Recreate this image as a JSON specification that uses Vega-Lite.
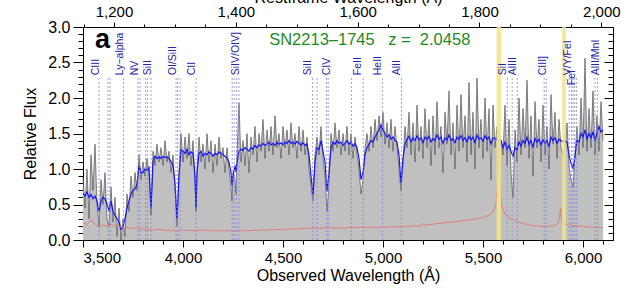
{
  "$schema": "https://vega.github.io/schema/vega-lite/v6.json",
  "width": 530,
  "height": 213,
  "autosize": {"type": "none"},
  "padding": {"left": 83, "top": 27, "right": 15, "bottom": 55},
  "background": "white",
  "config": {
    "view": {"stroke": "#000", "strokeWidth": 1},
    "font": "Liberation Sans",
    "axis": {"grid": false, "domain": false, "tickColor": "#000", "labelColor": "#000", "titleColor": "#000", "labelFont": "Liberation Sans", "titleFont": "Liberation Sans", "titleFontWeight": "normal", "zindex": 1}
  },
  "datasets": {
    "spec": [
      {"w":3500,"f":0.9,"s":0.66},{"w":3510,"f":0.45,"s":0.62},{"w":3520,"f":1.0,"s":0.68},{"w":3530,"f":0.3,"s":0.6},{"w":3540,"f":1.2,"s":0.64},{"w":3550,"f":0.7,"s":0.58},{"w":3560,"f":1.35,"s":0.62},{"w":3570,"f":0.5,"s":0.55},{"w":3580,"f":0.2,"s":0.4},{"w":3590,"f":0.85,"s":0.55},
      {"w":3600,"f":0.5,"s":0.6},{"w":3610,"f":0.95,"s":0.58},{"w":3620,"f":0.3,"s":0.5},{"w":3630,"f":0.2,"s":0.42},{"w":3640,"f":0.75,"s":0.55},{"w":3650,"f":0.25,"s":0.4},{"w":3660,"f":0.6,"s":0.35},{"w":3670,"f":0.05,"s":0.3},{"w":3680,"f":0.45,"s":0.25},{"w":3690,"f":0.0,"s":0.15},
      {"w":3700,"f":0.3,"s":0.18},{"w":3710,"f":0.05,"s":0.3},{"w":3720,"f":0.65,"s":0.45},{"w":3730,"f":0.4,"s":0.55},{"w":3740,"f":0.9,"s":0.65},{"w":3750,"f":0.6,"s":0.7},{"w":3760,"f":0.95,"s":0.72},{"w":3770,"f":0.7,"s":0.78},{"w":3780,"f":1.2,"s":1.05},{"w":3790,"f":0.85,"s":0.95},
      {"w":3800,"f":1.1,"s":0.95},{"w":3810,"f":0.9,"s":1.0},{"w":3820,"f":1.15,"s":0.98},{"w":3830,"f":0.95,"s":1.02},{"w":3840,"f":0.35,"s":0.45},{"w":3850,"f":1.25,"s":1.1},{"w":3860,"f":1.05,"s":1.18},{"w":3870,"f":1.35,"s":1.15},{"w":3880,"f":1.1,"s":1.17},{"w":3890,"f":1.3,"s":1.15},
      {"w":3900,"f":1.05,"s":1.18},{"w":3910,"f":1.4,"s":1.16},{"w":3920,"f":1.1,"s":1.17},{"w":3930,"f":1.25,"s":1.15},{"w":3940,"f":0.95,"s":1.1},{"w":3950,"f":1.2,"s":1.05},{"w":3960,"f":0.7,"s":0.8},{"w":3970,"f":0.2,"s":0.3},{"w":3980,"f":0.95,"s":0.9},{"w":3990,"f":1.5,"s":1.27},
      {"w":4000,"f":1.1,"s":1.25},{"w":4010,"f":1.45,"s":1.22},{"w":4020,"f":1.15,"s":1.28},{"w":4030,"f":1.5,"s":1.2},{"w":4040,"f":1.05,"s":1.24},{"w":4050,"f":1.4,"s":1.22},{"w":4060,"f":0.85,"s":0.9},{"w":4065,"f":0.4,"s":0.45},{"w":4070,"f":1.0,"s":0.95},{"w":4080,"f":1.45,"s":1.22},{"w":4090,"f":1.1,"s":1.25},
      {"w":4100,"f":1.35,"s":1.18},{"w":4110,"f":1.0,"s":1.22},{"w":4120,"f":1.5,"s":1.2},{"w":4130,"f":1.1,"s":1.24},{"w":4140,"f":1.4,"s":1.22},{"w":4150,"f":0.95,"s":1.18},{"w":4160,"f":1.35,"s":1.22},{"w":4170,"f":1.05,"s":1.2},{"w":4180,"f":1.45,"s":1.24},{"w":4190,"f":1.15,"s":1.22},
      {"w":4200,"f":1.3,"s":1.2},{"w":4210,"f":0.95,"s":1.18},{"w":4220,"f":1.3,"s":1.15},{"w":4230,"f":1.0,"s":1.1},{"w":4240,"f":0.75,"s":0.95},{"w":4245,"f":0.55,"s":0.77},{"w":4250,"f":0.95,"s":0.9},{"w":4260,"f":0.85,"s":1.05},{"w":4265,"f":0.65,"s":0.96},{"w":4270,"f":1.2,"s":1.1},{"w":4280,"f":1.93,"s":1.25},{"w":4290,"f":1.1,"s":1.28},
      {"w":4300,"f":1.4,"s":1.26},{"w":4310,"f":1.05,"s":1.3},{"w":4320,"f":1.5,"s":1.28},{"w":4330,"f":0.95,"s":1.25},{"w":4340,"f":1.45,"s":1.3},{"w":4350,"f":1.2,"s":1.28},{"w":4360,"f":1.6,"s":1.33},{"w":4370,"f":1.1,"s":1.3},{"w":4380,"f":1.5,"s":1.34},{"w":4390,"f":1.25,"s":1.32},
      {"w":4400,"f":1.7,"s":1.36},{"w":4410,"f":1.15,"s":1.33},{"w":4420,"f":1.55,"s":1.35},{"w":4430,"f":1.25,"s":1.38},{"w":4440,"f":1.6,"s":1.34},{"w":4450,"f":1.2,"s":1.36},{"w":4460,"f":1.75,"s":1.33},{"w":4470,"f":1.3,"s":1.38},{"w":4480,"f":1.5,"s":1.35},{"w":4490,"f":1.15,"s":1.37},
      {"w":4500,"f":1.6,"s":1.34},{"w":4510,"f":1.3,"s":1.38},{"w":4520,"f":1.55,"s":1.36},{"w":4530,"f":1.2,"s":1.4},{"w":4540,"f":1.65,"s":1.36},{"w":4550,"f":1.3,"s":1.38},{"w":4560,"f":1.5,"s":1.35},{"w":4570,"f":1.15,"s":1.39},{"w":4580,"f":1.6,"s":1.36},{"w":4590,"f":1.25,"s":1.34},
      {"w":4600,"f":1.55,"s":1.37},{"w":4610,"f":1.2,"s":1.33},{"w":4620,"f":1.45,"s":1.35},{"w":4630,"f":1.0,"s":1.2},{"w":4640,"f":0.75,"s":0.9},{"w":4650,"f":0.55,"s":0.63},{"w":4660,"f":1.2,"s":1.1},{"w":4670,"f":1.45,"s":1.3},{"w":4680,"f":1.2,"s":1.28},{"w":4690,"f":1.6,"s":1.4},
      {"w":4700,"f":1.15,"s":1.25},{"w":4710,"f":0.9,"s":1.1},{"w":4720,"f":0.4,"s":0.68},{"w":4730,"f":0.8,"s":0.95},{"w":4740,"f":1.5,"s":1.3},{"w":4750,"f":1.25,"s":1.38},{"w":4760,"f":1.65,"s":1.35},{"w":4770,"f":1.3,"s":1.4},{"w":4780,"f":1.55,"s":1.36},{"w":4790,"f":1.2,"s":1.38},
      {"w":4800,"f":1.5,"s":1.33},{"w":4810,"f":1.25,"s":1.36},{"w":4820,"f":1.6,"s":1.4},{"w":4830,"f":1.2,"s":1.35},{"w":4840,"f":1.5,"s":1.38},{"w":4850,"f":1.15,"s":1.32},{"w":4860,"f":1.45,"s":1.36},{"w":4870,"f":1.2,"s":1.3},{"w":4880,"f":1.0,"s":1.15},{"w":4890,"f":0.65,"s":0.85},
      {"w":4900,"f":0.85,"s":0.95},{"w":4910,"f":1.3,"s":1.2},{"w":4920,"f":1.5,"s":1.3},{"w":4930,"f":1.25,"s":1.35},{"w":4940,"f":1.6,"s":1.4},{"w":4950,"f":1.3,"s":1.38},{"w":4960,"f":1.7,"s":1.45},{"w":4970,"f":1.4,"s":1.5},{"w":4980,"f":1.75,"s":1.55},{"w":4990,"f":1.45,"s":1.62},
      {"w":5000,"f":1.8,"s":1.55},{"w":5010,"f":1.35,"s":1.5},{"w":5020,"f":1.65,"s":1.45},{"w":5030,"f":1.3,"s":1.48},{"w":5040,"f":1.7,"s":1.42},{"w":5050,"f":1.25,"s":1.45},{"w":5060,"f":1.6,"s":1.4},{"w":5070,"f":1.3,"s":1.38},{"w":5080,"f":1.0,"s":1.2},{"w":5090,"f":0.7,"s":0.8},
      {"w":5100,"f":1.1,"s":1.15},{"w":5110,"f":1.6,"s":1.35},{"w":5120,"f":1.3,"s":1.42},{"w":5130,"f":1.8,"s":1.46},{"w":5140,"f":1.2,"s":1.38},{"w":5150,"f":1.65,"s":1.44},{"w":5160,"f":1.1,"s":1.4},{"w":5170,"f":1.9,"s":1.47},{"w":5180,"f":1.25,"s":1.41},{"w":5190,"f":1.6,"s":1.44},
      {"w":5200,"f":1.15,"s":1.37},{"w":5210,"f":1.85,"s":1.45},{"w":5220,"f":1.3,"s":1.42},{"w":5230,"f":1.7,"s":1.46},{"w":5240,"f":1.05,"s":1.38},{"w":5250,"f":1.75,"s":1.43},{"w":5260,"f":1.2,"s":1.4},{"w":5270,"f":1.95,"s":1.48},{"w":5280,"f":1.3,"s":1.42},{"w":5290,"f":1.6,"s":1.45},
      {"w":5300,"f":0.95,"s":1.36},{"w":5310,"f":1.8,"s":1.44},{"w":5320,"f":1.35,"s":1.41},{"w":5330,"f":2.1,"s":1.48},{"w":5340,"f":1.2,"s":1.4},{"w":5350,"f":1.65,"s":1.43},{"w":5360,"f":1.0,"s":1.37},{"w":5370,"f":1.9,"s":1.45},{"w":5380,"f":1.25,"s":1.42},{"w":5390,"f":2.05,"s":1.47},
      {"w":5400,"f":1.3,"s":1.4},{"w":5410,"f":1.75,"s":1.44},{"w":5420,"f":1.1,"s":1.38},{"w":5430,"f":2.22,"s":1.46},{"w":5440,"f":1.2,"s":1.41},{"w":5450,"f":1.8,"s":1.45},{"w":5460,"f":1.0,"s":1.37},{"w":5470,"f":2.28,"s":1.48},{"w":5480,"f":1.3,"s":1.42},{"w":5490,"f":1.7,"s":1.44},
      {"w":5500,"f":1.15,"s":1.39},{"w":5510,"f":2.0,"s":1.47},{"w":5520,"f":1.25,"s":1.42},{"w":5530,"f":1.85,"s":1.45},{"w":5540,"f":0.85,"s":1.35},{"w":5550,"f":1.9,"s":1.44},{"w":5560,"f":1.3,"s":1.43},{"w":5570,"f":1.6,"s":1.42},{"w":5580,"f":1.5,"s":1.4},{"w":5590,"f":1.4,"s":1.4},
      {"w":5600,"f":1.2,"s":1.3},{"w":5610,"f":1.9,"s":1.38},{"w":5620,"f":1.05,"s":1.28},{"w":5630,"f":1.7,"s":1.33},{"w":5640,"f":0.95,"s":1.25},{"w":5650,"f":0.6,"s":1.18},{"w":5660,"f":1.55,"s":1.3},{"w":5670,"f":1.1,"s":1.27},{"w":5680,"f":2.0,"s":1.38},{"w":5690,"f":1.2,"s":1.32},
      {"w":5700,"f":1.85,"s":1.4},{"w":5710,"f":1.3,"s":1.36},{"w":5720,"f":2.25,"s":1.45},{"w":5730,"f":1.15,"s":1.35},{"w":5740,"f":1.75,"s":1.4},{"w":5750,"f":0.9,"s":1.3},{"w":5760,"f":1.95,"s":1.43},{"w":5770,"f":1.3,"s":1.38},{"w":5780,"f":1.7,"s":1.42},{"w":5790,"f":1.1,"s":1.34},
      {"w":5800,"f":1.9,"s":1.41},{"w":5810,"f":1.2,"s":1.36},{"w":5820,"f":1.6,"s":1.4},{"w":5830,"f":1.0,"s":1.32},{"w":5840,"f":2.05,"s":1.45},{"w":5850,"f":1.35,"s":1.4},{"w":5860,"f":1.8,"s":1.44},{"w":5870,"f":1.15,"s":1.36},{"w":5880,"f":1.7,"s":1.42},{"w":5890,"f":1.3,"s":1.4},
      {"w":5900,"f":1.2,"s":1.38},{"w":5910,"f":1.3,"s":1.4},{"w":5920,"f":1.65,"s":1.38},{"w":5930,"f":1.05,"s":1.2},{"w":5940,"f":0.85,"s":1.08},{"w":5950,"f":0.75,"s":1.01},{"w":5960,"f":1.2,"s":1.18},{"w":5970,"f":1.6,"s":1.4},{"w":5980,"f":1.2,"s":1.38},{"w":5990,"f":2.0,"s":1.5},
      {"w":6000,"f":1.3,"s":1.45},{"w":6010,"f":2.56,"s":1.55},{"w":6020,"f":1.25,"s":1.42},{"w":6030,"f":1.85,"s":1.5},{"w":6040,"f":1.3,"s":1.44},{"w":6050,"f":2.1,"s":1.52},{"w":6060,"f":1.2,"s":1.4},{"w":6070,"f":1.75,"s":1.5},{"w":6080,"f":1.25,"s":1.6},{"w":6090,"f":1.95,"s":1.52},{"w":6100,"f":1.4,"s":1.55}
    ],
    "err": [
      {"w":3500,"e":0.24},{"w":3510,"e":0.23},{"w":3520,"e":0.22},{"w":3530,"e":0.25},{"w":3540,"e":0.28},{"w":3550,"e":0.26},{"w":3560,"e":0.22},{"w":3570,"e":0.2},{"w":3585,"e":0.19},{"w":3600,"e":0.21},{"w":3620,"e":0.2},{"w":3640,"e":0.22},{"w":3660,"e":0.2},{"w":3680,"e":0.19},{"w":3700,"e":0.17},{"w":3720,"e":0.18},{"w":3740,"e":0.16},{"w":3760,"e":0.17},{"w":3780,"e":0.15},{"w":3800,"e":0.16},{"w":3820,"e":0.15},{"w":3850,"e":0.14},{"w":3880,"e":0.15},{"w":3900,"e":0.14},{"w":3950,"e":0.13},{"w":4000,"e":0.14},{"w":4050,"e":0.13},{"w":4100,"e":0.14},{"w":4150,"e":0.13},{"w":4200,"e":0.13},{"w":4300,"e":0.13},{"w":4400,"e":0.14},{"w":4500,"e":0.15},{"w":4600,"e":0.16},{"w":4700,"e":0.17},{"w":4800,"e":0.17},{"w":4900,"e":0.18},{"w":5000,"e":0.18},{"w":5100,"e":0.19},{"w":5190,"e":0.2},{"w":5200,"e":0.23},{"w":5210,"e":0.21},{"w":5300,"e":0.24},{"w":5400,"e":0.27},{"w":5450,"e":0.29},{"w":5500,"e":0.32},{"w":5530,"e":0.35},{"w":5550,"e":0.4},{"w":5565,"e":0.5},{"w":5572,"e":0.8},{"w":5578,"e":1.3},{"w":5584,"e":0.8},{"w":5592,"e":0.5},{"w":5610,"e":0.36},{"w":5640,"e":0.3},{"w":5680,"e":0.25},{"w":5720,"e":0.22},{"w":5760,"e":0.2},{"w":5800,"e":0.19},{"w":5850,"e":0.2},{"w":5870,"e":0.22},{"w":5880,"e":0.28},{"w":5888,"e":0.44},{"w":5893,"e":0.3},{"w":5900,"e":0.23},{"w":5930,"e":0.21},{"w":5960,"e":0.2},{"w":6000,"e":0.19},{"w":6050,"e":0.18},{"w":6100,"e":0.17}
    ],
    "bands": [{"a":5568,"b":5590},{"a":5896,"b":5914}],
    "lines": [
      {"lw":3580},{"lw":3625},{"lw":3635},{"lw":3703},{"lw":3775},{"lw":3785},{"lw":3813},{"lw":3823},{"lw":3840},{"lw":3965},{"lw":3973},{"lw":3985},{"lw":4065},{"lw":4246},{"lw":4256},{"lw":4268},{"lw":4280},{"lw":4648},{"lw":4670},{"lw":4718},{"lw":4726},{"lw":4842},{"lw":4901},{"lw":4997},{"lw":5092},{"lw":5621},{"lw":5646},{"lw":5671},{"lw":5806},{"lw":5816},{"lw":5931},{"lw":5942},{"lw":5950},{"lw":5958},{"lw":5968},{"lw":6060},{"lw":6073}
    ],
    "labels": [
      {"lw":3582,"t":"CIII"},{"lw":3698,"t":"Ly\u2212alpha"},{"lw":3775,"t":"NV"},{"lw":3840,"t":"SiII"},{"lw":3966,"t":"OI/SiII"},{"lw":4060,"t":"CII"},{"lw":4282,"t":"SiIV/OIV]"},{"lw":4642,"t":"SiII"},{"lw":4733,"t":"CIV"},{"lw":4892,"t":"FeII"},{"lw":4992,"t":"HeII"},{"lw":5085,"t":"AlII"},{"lw":5617,"t":"SiI"},{"lw":5667,"t":"AlIII"},{"lw":5817,"t":"CIII]"},{"lw":5942,"t":"V/Y/FeI"},{"lw":6080,"t":"AlII/MnI"}
    ],
    "labels2": [{"lw":5960,"t":"FeI"}],
    "notes": [
      {"w":3560,"y":2.7,"t":"a"}
    ],
    "green": [
      {"w":4431,"y":2.75,"t":"SN2213\u20131745"},{"w":5026,"y":2.75,"t":"z =\u00a0\u00a02.0458"}
    ],
    "rest": [{"r":1200}]
  },
  "resolve": {"scale": {"x": "independent", "y": "independent"}, "axis": {"x": "independent", "y": "independent"}},
  "layer": [
    {
      "data": {"name": "spec"},
      "mark": {"type": "area", "color": "#c0c0c0", "interpolate": "linear"},
      "encoding": {
        "x": {"field": "w", "type": "quantitative", "scale": {"domain": [3500, 6150], "nice": false, "zero": false},
              "axis": {"orient": "bottom", "values": [3500,4000,4500,5000,5500,6000], "format": ",.0f", "tickSize": 7, "labelFontSize": 15, "labelPadding": 3, "title": "Observed Wavelength (\u00c5)", "titleFontSize": 16, "titleY": 40, "titleBaseline": "alphabetic"}},
        "y": {"field": "f", "type": "quantitative", "scale": {"domain": [0, 3], "nice": false},
              "axis": {"orient": "left", "values": [0,0.5,1,1.5,2,2.5,3], "format": ".1f", "tickSize": 10, "labelFontSize": 16, "labelPadding": 3, "title": "Relative Flux", "titleFontSize": 16, "titleAngle": 270, "titleX": -48, "titleY": 106.5, "titleAlign": "center", "titleBaseline": "alphabetic"}}
      }
    },
    {
      "data": {"name": "spec"},
      "mark": {"type": "line", "color": "#3a3a3a", "strokeWidth": 0.7, "opacity": 0.85},
      "encoding": {
        "x": {"field": "w", "type": "quantitative", "scale": {"domain": [3500, 6150], "nice": false, "zero": false},
              "axis": {"orient": "bottom", "values": [3500,3600,3700,3800,3900,4000,4100,4200,4300,4400,4500,4600,4700,4800,4900,5000,5100,5200,5300,5400,5500,5600,5700,5800,5900,6000,6100], "tickSize": 4, "labels": false, "title": null}},
        "y": {"field": "f", "type": "quantitative", "scale": {"domain": [0, 3], "nice": false},
              "axis": {"orient": "left", "values": [0,0.1,0.2,0.3,0.4,0.5,0.6,0.7,0.8,0.9,1,1.1,1.2,1.3,1.4,1.5,1.6,1.7,1.8,1.9,2,2.1,2.2,2.3,2.4,2.5,2.6,2.7,2.8,2.9,3], "tickSize": 5, "labels": false, "title": null}}
      }
    },
    {
      "data": {"name": "spec"},
      "mark": {"type": "line", "color": "#1414ff", "strokeWidth": 1.2},
      "encoding": {
        "x": {"field": "w", "type": "quantitative", "scale": {"domain": [3500, 6150], "nice": false, "zero": false}, "axis": null},
        "y": {"field": "s", "type": "quantitative", "scale": {"domain": [0, 3], "nice": false},
              "axis": {"orient": "right", "values": [0,0.5,1,1.5,2,2.5,3], "tickSize": -9, "labels": false, "title": null}}
      }
    },
    {
      "data": {"name": "err"},
      "mark": {"type": "line", "color": "#e07878", "strokeWidth": 0.9},
      "encoding": {
        "x": {"field": "w", "type": "quantitative", "scale": {"domain": [3500, 6150], "nice": false, "zero": false}, "axis": null},
        "y": {"field": "e", "type": "quantitative", "scale": {"domain": [0, 3], "nice": false},
              "axis": {"orient": "right", "values": [0,0.1,0.2,0.3,0.4,0.5,0.6,0.7,0.8,0.9,1,1.1,1.2,1.3,1.4,1.5,1.6,1.7,1.8,1.9,2,2.1,2.2,2.3,2.4,2.5,2.6,2.7,2.8,2.9,3], "tickSize": -5, "labels": false, "title": null}}
      }
    },
    {
      "data": {"name": "bands"},
      "mark": {"type": "rect", "color": "#f2e48a", "opacity": 0.88},
      "encoding": {
        "x": {"field": "a", "type": "quantitative", "scale": {"domain": [3500, 6150], "nice": false, "zero": false}, "axis": null},
        "x2": {"field": "b"}
      }
    },
    {
      "data": {"name": "lines"},
      "mark": {"type": "rule", "color": "#8585d6", "strokeWidth": 0.8, "strokeDash": [2, 2]},
      "encoding": {
        "x": {"field": "lw", "type": "quantitative", "scale": {"domain": [3500, 6150], "nice": false, "zero": false}, "axis": null},
        "y": {"datum": 0, "scale": {"domain": [0, 3], "nice": false}, "axis": null},
        "y2": {"datum": 2.28}
      }
    },
    {
      "data": {"name": "labels"},
      "mark": {"type": "text", "angle": 270, "align": "left", "baseline": "alphabetic", "fontSize": 10.5, "color": "#2424a8", "font": "Liberation Sans"},
      "encoding": {
        "x": {"field": "lw", "type": "quantitative", "scale": {"domain": [3500, 6150], "nice": false, "zero": false}, "axis": null},
        "y": {"datum": 2.32, "scale": {"domain": [0, 3], "nice": false}, "axis": null},
        "text": {"field": "t"}
      }
    },
    {
      "data": {"name": "labels2"},
      "mark": {"type": "text", "angle": 270, "align": "left", "baseline": "alphabetic", "fontSize": 10.5, "color": "#2424a8", "font": "Liberation Sans"},
      "encoding": {
        "x": {"field": "lw", "type": "quantitative", "scale": {"domain": [3500, 6150], "nice": false, "zero": false}, "axis": null},
        "y": {"datum": 2.18, "scale": {"domain": [0, 3], "nice": false}, "axis": null},
        "text": {"field": "t"}
      }
    },
    {
      "data": {"name": "notes"},
      "mark": {"type": "text", "align": "left", "baseline": "alphabetic", "fontSize": 27, "fontWeight": "bold", "color": "#000", "font": "Liberation Sans"},
      "encoding": {
        "x": {"field": "w", "type": "quantitative", "scale": {"domain": [3500, 6150], "nice": false, "zero": false}, "axis": null},
        "y": {"field": "y", "type": "quantitative", "scale": {"domain": [0, 3], "nice": false}, "axis": null},
        "text": {"field": "t"}
      }
    },
    {
      "data": {"name": "green"},
      "mark": {"type": "text", "align": "left", "baseline": "alphabetic", "fontSize": 16.5, "color": "#1f8a1f", "font": "Liberation Sans"},
      "encoding": {
        "x": {"field": "w", "type": "quantitative", "scale": {"domain": [3500, 6150], "nice": false, "zero": false}, "axis": null},
        "y": {"field": "y", "type": "quantitative", "scale": {"domain": [0, 3], "nice": false}, "axis": null},
        "text": {"field": "t"}
      }
    },
    {
      "data": {"name": "rest"},
      "mark": {"type": "rule", "opacity": 0},
      "encoding": {
        "x": {"field": "r", "type": "quantitative", "scale": {"domain": [1149.125, 2019.17], "nice": false, "zero": false},
              "axis": {"orient": "top", "values": [1200,1400,1600,1800,2000], "format": ",.0f", "tickSize": 5, "labelFontSize": 15, "labelPadding": 3, "title": "Restframe Wavelength (\u00c5)", "titleFontSize": 16, "titleY": -25, "titleBaseline": "alphabetic"}}
      }
    },
    {
      "data": {"name": "rest"},
      "mark": {"type": "rule", "opacity": 0},
      "encoding": {
        "x": {"field": "r", "type": "quantitative", "scale": {"domain": [1149.125, 2019.17], "nice": false, "zero": false},
              "axis": {"orient": "top", "values": [1150,1200,1250,1300,1350,1400,1450,1500,1550,1600,1650,1700,1750,1800,1850,1900,1950,2000], "tickSize": 3, "labels": false, "title": null}}
      }
    }
  ]
}
